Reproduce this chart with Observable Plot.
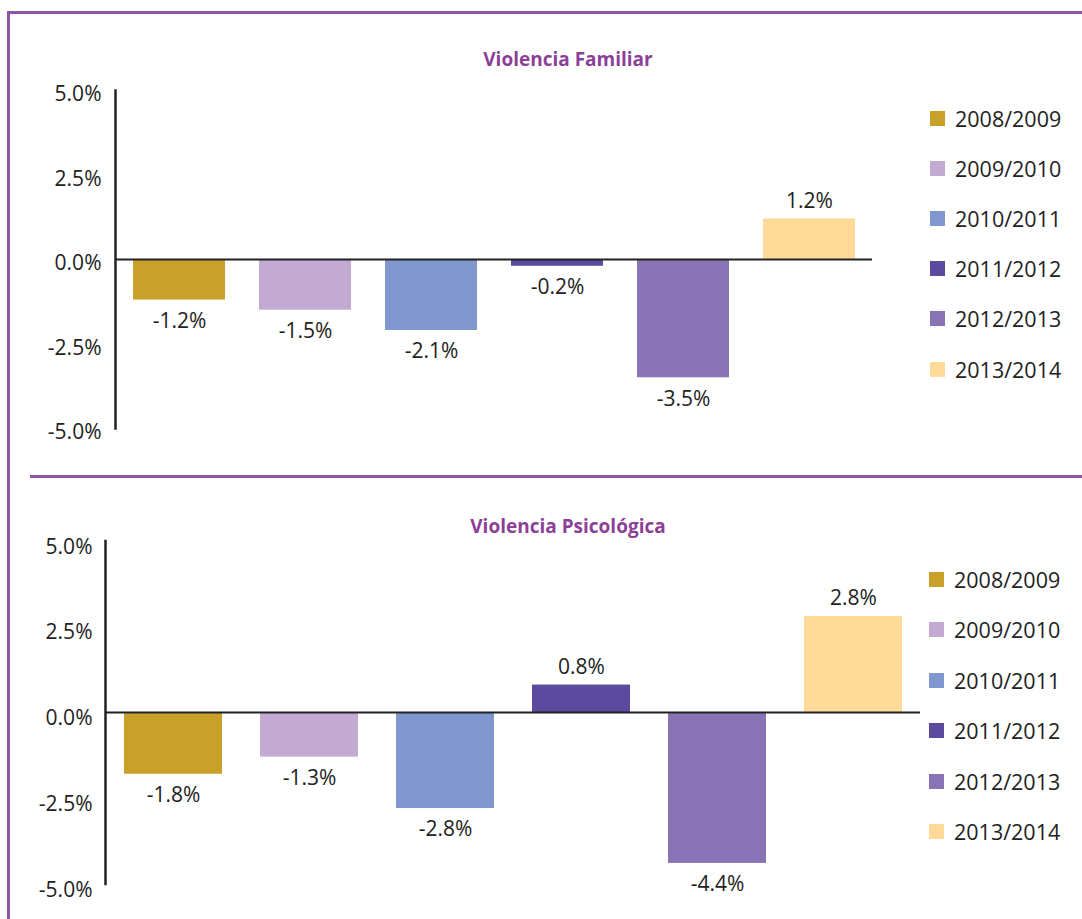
<!DOCTYPE html>
<html><head><meta charset="utf-8">
<script src="https://cdn.jsdelivr.net/npm/d3@7"></script>
<script src="https://cdn.jsdelivr.net/npm/@observablehq/plot@0.6"></script>
<style>
body{margin:0;background:#fff;font-family:"Open Sans",sans-serif;}
#wrap{position:relative;width:1082px;height:919px;overflow:hidden;}
.line{position:absolute;background:#8E56A4;}
.title{position:absolute;left:0;width:1136px;text-align:center;font-weight:bold;color:#8B3F98;font-size:19px;}
.leg{position:absolute;display:flex;align-items:center;font-size:21.5px;color:#222;}
.sw{width:15px;height:15px;margin-right:10px;}
svg{position:absolute;left:0;}
</style></head>
<body><div id="wrap"></div>
<script>
const periods = ["2008/2009","2009/2010","2010/2011","2011/2012","2012/2013","2013/2014"];
const colors = ["#C9A02A","#C3AAD2","#7F97CC","#5B4A9E","#8874B4","#FFDA99"];
const familiar = [-1.2,-1.5,-2.1,-0.2,-3.5,1.2];
const psicologica = [-1.8,-1.3,-2.8,0.8,-4.4,2.8];
const yTicks = [-5,-2.5,0,2.5,5];
const titles = ["Violencia Familiar","Violencia Psicológica"];

const pct = d3.formatLocale({decimal:".", thousands:",", grouping:[3], currency:["",""], minus:"-"}).format(".1%");

const wrap = document.getElementById("wrap");
function addLine(l,t,w,h){const d=document.createElement("div");d.className="line";Object.assign(d.style,{left:l+"px",top:t+"px",width:w+"px",height:h+"px"});wrap.appendChild(d);}
addLine(7,11,1075,2.5);
addLine(7,11,2.5,908);
addLine(30,475,1052,2.5);

function panel(values,cfg){
  const data = periods.map((p,i)=>({p, v: values[i]/100}));
  const neg = data.filter(d=>d.v<0), pos = data.filter(d=>d.v>=0);
  const chart = Plot.plot({
    width:1082, height:cfg.height,
    marginLeft:cfg.ml, marginRight:cfg.mr, marginTop:cfg.mt, marginBottom:cfg.mb,
    style:{fontFamily:"Open Sans", fontSize:"21px", color:"#222", background:"transparent", overflow:"visible"},
    x:{domain:periods, paddingInner:cfg.pi, paddingOuter:cfg.po, axis:null},
    y:{domain:[-0.05,0.05], label:null},
    color:{domain:periods, range:colors},
    marks:[
      Plot.barY(data,{x:"p", y:"v", fill:"p"}),
      Plot.ruleY([0],{stroke:"#222", strokeWidth:2}),
      Plot.frame({anchor:"left", stroke:"#222", strokeWidth:2.5}),
      Plot.axisY({ticks:yTicks.map(t=>t/100), tickFormat:pct, tickSize:0, tickPadding:cfg.tp, dy:cfg.tdy, fontSize:21, fill:"#222", label:null}),
      Plot.text(neg,{x:"p", y:"v", text:d=>pct(d.v), dy:21, fontSize:21, fill:"#222"}),
      Plot.text(pos,{x:"p", y:"v", text:d=>pct(d.v), dy:-18, fontSize:21, fill:"#222"})
    ]
  });
  chart.style.top = cfg.top+"px";
  wrap.appendChild(chart);
}

panel(familiar,{top:0,height:470,ml:115,mr:210,mt:90,mb:42,tp:14,tdy:4,pi:0.27,po:0.13});
panel(psicologica,{top:470,height:449,ml:105,mr:162,mt:70.5,mb:35.5,tp:13,tdy:6,pi:0.28,po:0.13});

function title(t,y){const d=document.createElement("div");d.className="title";d.textContent=t;d.style.top=y+"px";wrap.appendChild(d);}
title(titles[0],46);
title(titles[1],513);

function legend(x,y0,step){
  periods.forEach((p,i)=>{
    const d=document.createElement("div");d.className="leg";
    d.style.left=x+"px";d.style.top=(y0+i*step-15)+"px";d.style.height="30px";
    const s=document.createElement("div");s.className="sw";s.style.background=colors[i];
    d.appendChild(s);d.appendChild(document.createTextNode(p));wrap.appendChild(d);
  });
}
legend(930,118,50.2);
legend(929,579,50.5);
</script></body></html>
